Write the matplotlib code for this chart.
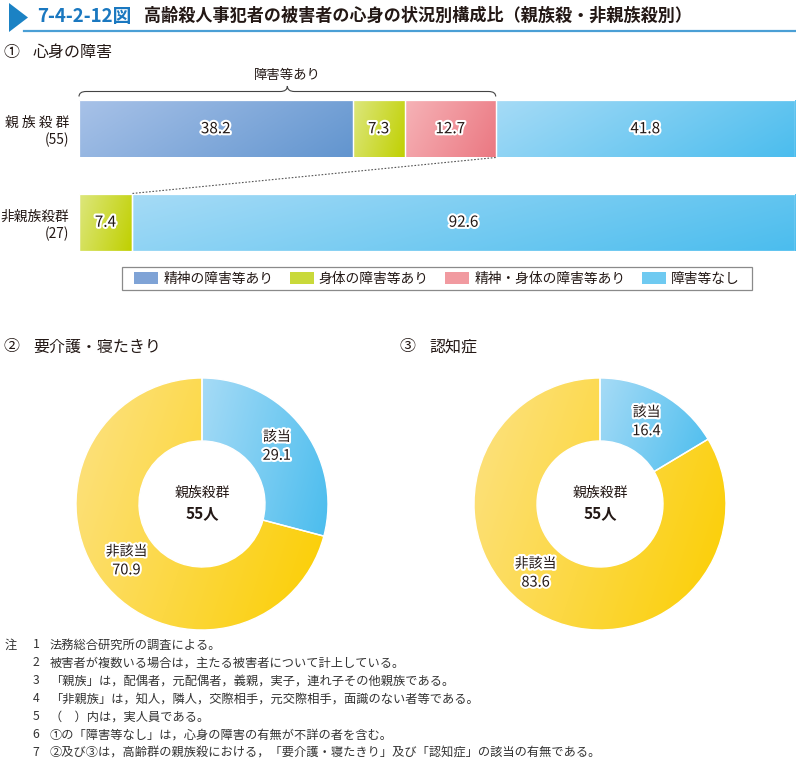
import numpy as np
import matplotlib
matplotlib.use("Agg")
import matplotlib.pyplot as plt
from matplotlib.colors import to_rgb
from matplotlib.patches import Polygon, Rectangle, Patch, PathPatch
from matplotlib.path import Path
from matplotlib.lines import Line2D
import matplotlib.patheffects as pe

plt.rcParams['font.family'] = ['Noto Sans CJK JP', 'DejaVu Sans']

# ---------------- data ----------------
fig_number = '7-4-2-12図'
fig_title = '高齢殺人事犯者の被害者の心身の状況別構成比（親族殺・非親族殺別）'

section1_title = '心身の障害'
bar_categories = ['親 族 殺 群', '非親族殺群']
bar_counts = [55, 27]
series_names = ['精神の障害等あり', '身体の障害等あり', '精神・身体の障害等あり', '障害等なし']
kin_values = [38.2, 7.3, 12.7, 41.8]
nonkin_values = [0.0, 7.4, 0.0, 92.6]
brace_label = '障害等あり'

donut_titles = ['要介護・寝たきり', '認知症']
donut_marks = ['②', '③']
donut_labels = ['該当', '非該当']
care_values = [29.1, 70.9]
dementia_values = [16.4, 83.6]
donut_center_group = '親族殺群'
donut_center_n = '55人'

notes = [
    '法務総合研究所の調査による。',
    '被害者が複数いる場合は，主たる被害者について計上している。',
    '「親族」は，配偶者，元配偶者，義親，実子，連れ子その他親族である。',
    '「非親族」は，知人，隣人，交際相手，元交際相手，面識のない者等である。',
    '（　）内は，実人員である。',
    '①の「障害等なし」は，心身の障害の有無が不詳の者を含む。',
    '②及び③は，高齢群の親族殺における，「要介護・寝たきり」及び「認知症」の該当の有無である。',
]

# ---------------- style ----------------
W, H = 796, 760
TXT = '#231815'
series_grad = [('#a8c2e8', '#6295cf'), ('#dde77e', '#c0d000'),
               ('#f6b3b7', '#eb7882'), ('#a6dbf6', '#4bbdee')]
series_solid = ['#7fa3d6', '#c9d93a', '#f19aa0', '#6fcaf1']
donut_grad = [('#a6dbf6', '#4bbdee'), ('#fde284', '#fbce00')]


def fx(x):
    return x / W


def fy(y):
    return 1 - y / H


def grad_fill(ax, patch, c0, c1, extent, zorder=2):
    n = 80
    xx, yy = np.meshgrid(np.linspace(0, 1, n), np.linspace(0, 1, n))
    t = (xx * 0.75 + yy * 0.25)
    a = np.array(to_rgb(c0))
    b = np.array(to_rgb(c1))
    img = a + (b - a) * t[..., None]
    im = ax.imshow(img, extent=extent, origin='upper', aspect='auto',
                   interpolation='bilinear', zorder=zorder)
    im.set_clip_path(patch)
    return im


fig = plt.figure(figsize=(W / 100, H / 100), dpi=100)

# ---------------- header ----------------
fig.patches.append(Polygon([(fx(9), fy(3)), (fx(9), fy(32)), (fx(28), fy(17.5))],
                           closed=True, transform=fig.transFigure,
                           facecolor='#1b82c4', edgecolor='none'))
fig.lines.append(Line2D([fx(24), fx(796)], [fy(30.5), fy(30.5)],
                        transform=fig.transFigure, color='#4a9fd5', lw=1.6))
fig.text(fx(37), fy(16), fig_number, fontsize=13.5, fontweight='bold',
         color='#1a78c0', va='center', ha='left')
fig.text(fx(144), fy(16), fig_title, fontsize=12.3, fontweight='bold',
         color=TXT, va='center', ha='left')

# section headings
fig.text(fx(4), fy(52), '①', fontsize=11.5, color=TXT, va='center')
fig.text(fx(33), fy(52), section1_title, fontsize=11.5, color=TXT, va='center')
for i, (mark, ttl) in enumerate(zip(donut_marks, donut_titles)):
    x0 = 4 + i * 396
    fig.text(fx(x0), fy(347), mark, fontsize=11.5, color=TXT, va='center')
    fig.text(fx(x0 + 29), fy(347), ttl, fontsize=11.5, color=TXT, va='center')

# ---------------- stacked bars ----------------
bar_top, bar_bot = 100, 251
spacing = 93.5
bh = 57.5 / spacing
ax = fig.add_axes([fx(79), fy(bar_bot), 716 / W, (bar_bot - bar_top) / H])
pos = np.arange(len(bar_categories))
data = np.array([kin_values, nonkin_values])  # rows: categories
left = np.zeros(len(bar_categories))
stroke = [pe.withStroke(linewidth=3, foreground='white')]
for i, name in enumerate(series_names):
    vals = data[:, i]
    rects = ax.barh(pos, vals, left=left, height=bh, facecolor='none',
                    edgecolor='white', linewidth=0.9, zorder=3)
    for r, v in zip(rects, vals):
        if v <= 0:
            continue
        x0, y0, w, h = r.get_x(), r.get_y(), r.get_width(), r.get_height()
        grad_fill(ax, r, *series_grad[i], extent=(x0, x0 + w, y0 + h, y0))
        ax.text(x0 + w / 2, y0 + h / 2, f'{v:.1f}', ha='center', va='center',
                fontsize=11, color=TXT, zorder=5, path_effects=stroke)
    left = left + vals

ax.set_xlim(0, 100)
ax.set_ylim(len(pos) - 1 + bh / 2, -bh / 2)
ax.set_yticks(pos)
ax.set_yticklabels([f'{c}\n({n})' for c, n in zip(bar_categories, bar_counts)],
                   fontsize=9.9, color=TXT, linespacing=1.25, ha='right',
                   multialignment='right')
ax.tick_params(axis='y', length=0, pad=7)
ax.set_xticks([])
for s in ax.spines.values():
    s.set_visible(False)


def ypx(p):
    return -bh / 2 + (p - bar_top) / spacing


# brace over "障害等あり"
bx1 = sum(kin_values[:3])
bm = bx1 / 2
dx = 1.0
yl, ye, yp = ypx(91.5), ypx(96.5), ypx(86)
verts = [(0, ye), (0, yl), (dx, yl),
         (bm - dx, yl),
         (bm, yl), (bm, yp),
         (bm, yl), (bm + dx, yl),
         (bx1 - dx, yl),
         (bx1, yl), (bx1, ye)]
codes = [Path.MOVETO, Path.CURVE3, Path.CURVE3,
         Path.LINETO,
         Path.CURVE3, Path.CURVE3,
         Path.CURVE3, Path.CURVE3,
         Path.LINETO,
         Path.CURVE3, Path.CURVE3]
ax.add_patch(PathPatch(Path(verts, codes), facecolor='none', edgecolor='#444',
                       lw=0.8, clip_on=False))
ax.text(bm, ypx(75), brace_label, ha='center', va='center', fontsize=9.6,
        color=TXT, clip_on=False)

# dotted connector
nx1 = sum(nonkin_values[:3])
ax.plot([bx1, nx1], [0 + bh / 2, 1 - bh / 2], ls=(0, (1.5, 1.5)), color='#555',
        lw=0.8, zorder=4, clip_on=False)

# legend
handles = [Patch(facecolor=c, edgecolor='none') for c in series_solid]
fig.legend(handles, series_names, loc='center', bbox_to_anchor=(fx(437), fy(278.5)),
           ncol=4, frameon=False, handlelength=1.75, handleheight=1.0,
           handletextpad=0.36, columnspacing=1.2, fontsize=9.9, labelcolor=TXT)
fig.patches.append(Rectangle((fx(122.5), fy(290)), (752 - 122.5) / W, 23 / H,
                             transform=fig.transFigure, fill=False,
                             edgecolor='#8a8a8a', lw=0.9))

# ---------------- donuts ----------------
R = 126
centers = [(202, 504), (600, 504)]
label_angles_nonhit = [217.0, 227.0]
for k, (vals, (cx, cy)) in enumerate(zip([care_values, dementia_values], centers)):
    dax = fig.add_axes([fx(cx - R), fy(cy + R), 2 * R / W, 2 * R / H])
    wedges, _ = dax.pie(vals, startangle=90, counterclock=False, radius=1,
                        wedgeprops=dict(width=0.5, facecolor='none',
                                        edgecolor='white', linewidth=1.0))
    for j, w in enumerate(wedges):
        w.set_zorder(3)
        ext = w.get_path().get_extents()
        grad_fill(dax, w, *donut_grad[j], extent=(ext.x0, ext.x1, ext.y0, ext.y1))
        if j == 0:
            ang = np.deg2rad((w.theta1 + w.theta2) / 2)
        else:
            ang = np.deg2rad(label_angles_nonhit[k])
        tx, ty = 0.75 * np.cos(ang), 0.75 * np.sin(ang)
        dax.text(tx, ty + 0.075, donut_labels[j], ha='center', va='center',
                 fontsize=10, color=TXT, zorder=5, path_effects=stroke)
        dax.text(tx, ty - 0.075, f'{vals[j]:.1f}', ha='center', va='center',
                 fontsize=10.5, color=TXT, zorder=5, path_effects=stroke)
    dax.text(0, 0.085, donut_center_group, ha='center', va='center',
             fontsize=10, color=TXT)
    dax.text(0, -0.075, donut_center_n, ha='center', va='center',
             fontsize=11, fontweight='bold', color=TXT)
    dax.set_xlim(-1, 1)
    dax.set_ylim(-1, 1)
    dax.set_aspect('equal')
    dax.axis('off')

# ---------------- notes ----------------
note_y0 = 645
note_dy = 18.0
fig.text(fx(5), fy(note_y0), '注', fontsize=8.8, color='#333', va='center')
for i, t in enumerate(notes):
    y = note_y0 + i * note_dy
    fig.text(fx(36), fy(y), str(i + 1), fontsize=8.8, color='#333', va='center', ha='center')
    fig.text(fx(50), fy(y), t, fontsize=8.8, color='#333', va='center', ha='left')

fig.savefig('out.png', dpi=100)
